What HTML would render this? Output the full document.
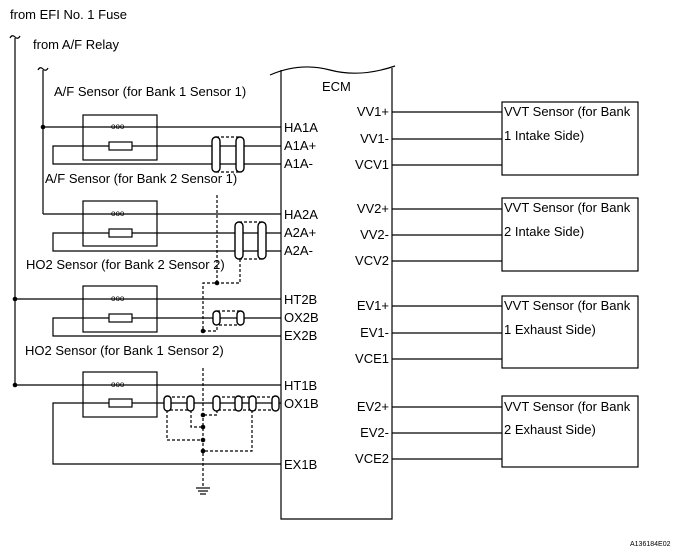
<!DOCTYPE html>
<html><head><style>body{margin:0;background:#fff}svg{display:block}text{font-family:"Liberation Sans",sans-serif;font-size:13px;fill:#000}</style></head><body>
<svg width="680" height="556" viewBox="0 0 680 556" xmlns="http://www.w3.org/2000/svg">
<g stroke="#000" stroke-width="1.2" fill="none">
<path d="M10 38 q2 -4 5 -1 q3 3 5 -1"/>
<line x1="15" y1="38" x2="15" y2="385"/>
<path d="M38 70 q2 -4 5 -1 q3 3 5 -1"/>
<line x1="43" y1="70" x2="43" y2="214"/>
<path d="M270 75 Q300 62 330 70 Q360 78 395 66"/>
<path d="M281 70 V519 H392 V68"/>
<rect x="83" y="115" width="74" height="45"/>
<rect x="83" y="201" width="74" height="45"/>
<rect x="83" y="286" width="74" height="46"/>
<rect x="83" y="372" width="74" height="45"/>
<line x1="43" y1="127" x2="281" y2="127"/>
<polyline points="281,146 53,146 53,164 281,164"/>
<line x1="43" y1="214" x2="281" y2="214"/>
<polyline points="281,233 53,233 53,251 281,251"/>
<line x1="15" y1="299" x2="281" y2="299"/>
<polyline points="281,318 53,318 53,336 281,336"/>
<line x1="15" y1="385" x2="281" y2="385"/>
<polyline points="281,403 53,403 53,464 281,464"/>
<rect x="502" y="102" width="136" height="73"/>
<rect x="502" y="198" width="136" height="73"/>
<rect x="502" y="296" width="136" height="72"/>
<rect x="502" y="396" width="136" height="71"/>
<g>
<line x1="392" y1="112" x2="502" y2="112"/><line x1="392" y1="139" x2="502" y2="139"/><line x1="392" y1="165" x2="502" y2="165"/>
<line x1="392" y1="209" x2="502" y2="209"/><line x1="392" y1="235" x2="502" y2="235"/><line x1="392" y1="261" x2="502" y2="261"/>
<line x1="392" y1="306" x2="502" y2="306"/><line x1="392" y1="333" x2="502" y2="333"/><line x1="392" y1="359" x2="502" y2="359"/>
<line x1="392" y1="407" x2="502" y2="407"/><line x1="392" y1="433" x2="502" y2="433"/><line x1="392" y1="459" x2="502" y2="459"/>
</g>
</g>
<g stroke="#000" stroke-width="1.2" fill="#fff">
<rect x="109" y="142" width="23" height="8"/><rect x="109" y="229" width="23" height="8"/>
<rect x="109" y="314" width="23" height="8"/><rect x="109" y="399" width="23" height="8"/>
</g>
<g><text x="111" y="129" style="font-size:8px">ooo</text><text x="111" y="216" style="font-size:8px">ooo</text><text x="111" y="301" style="font-size:8px">ooo</text><text x="111" y="387" style="font-size:8px">ooo</text></g>
<g stroke="#000" stroke-width="1.2" fill="none" stroke-dasharray="3,2">
<rect x="216" y="137" width="24" height="35"/>
<rect x="239" y="222" width="23" height="37"/>
<polyline points="217,195 217,283 203,283 203,331 217,331 217,325"/>
<polyline points="240,259 240,283 217,283"/>
<rect x="217" y="311" width="23" height="14"/>
<rect x="167" y="397" width="24" height="13"/>
<rect x="217" y="397" width="58" height="13"/>
<polyline points="203,368 203,487"/>
<polyline points="167,410 167,440 203,440"/>
<polyline points="191,410 191,427 203,427"/>
<polyline points="217,410 217,415 203,415"/>
<polyline points="252,410 252,451 203,451"/>
</g>
<g stroke="#000" stroke-width="1.4" fill="#fff">
<rect x="212" y="137" width="8" height="35" rx="4"/><rect x="236" y="137" width="8" height="35" rx="4"/>
<rect x="235" y="222" width="8" height="37" rx="4"/><rect x="258" y="222" width="8" height="37" rx="4"/>
<rect x="213" y="311" width="7" height="14" rx="3.5"/><rect x="237" y="311" width="7" height="14" rx="3.5"/>
<rect x="164" y="396" width="7" height="15" rx="3.5"/><rect x="187" y="396" width="7" height="15" rx="3.5"/>
<rect x="213" y="396" width="7" height="15" rx="3.5"/><rect x="235" y="396" width="7" height="15" rx="3.5"/>
<rect x="249" y="396" width="7" height="15" rx="3.5"/><rect x="272" y="396" width="7" height="15" rx="3.5"/>
</g>
<g fill="#000">
<circle cx="43" cy="127" r="2.3"/><circle cx="15" cy="299" r="2.3"/><circle cx="15" cy="385" r="2.3"/>
<circle cx="217" cy="283" r="2.3"/><circle cx="203" cy="331" r="2.3"/>
<circle cx="203" cy="415" r="2.3"/><circle cx="203" cy="427" r="2.3"/><circle cx="203" cy="440" r="2.3"/><circle cx="203" cy="451" r="2.3"/>
</g>
<g stroke="#000" stroke-width="1.2"><line x1="196" y1="488" x2="210" y2="488"/><line x1="198" y1="491" x2="208" y2="491"/><line x1="200" y1="494" x2="206" y2="494"/></g>
<text x="10" y="19">from EFI No. 1 Fuse</text>
<text x="33" y="49">from A/F Relay</text>
<text x="54" y="96">A/F Sensor (for Bank 1 Sensor 1)</text>
<text x="45" y="183">A/F Sensor (for Bank 2 Sensor 1)</text>
<text x="26" y="269">HO2 Sensor (for Bank 2 Sensor 2)</text>
<text x="25" y="355">HO2 Sensor (for Bank 1 Sensor 2)</text>
<text x="322" y="91">ECM</text>
<text x="284" y="132">HA1A</text><text x="284" y="150">A1A+</text><text x="284" y="168">A1A-</text>
<text x="284" y="219">HA2A</text><text x="284" y="237">A2A+</text><text x="284" y="255">A2A-</text>
<text x="284" y="304">HT2B</text><text x="284" y="322">OX2B</text><text x="284" y="340">EX2B</text>
<text x="284" y="390">HT1B</text><text x="284" y="408">OX1B</text><text x="284" y="469">EX1B</text>
<g text-anchor="end">
<text x="389" y="116">VV1+</text><text x="389" y="143">VV1-</text><text x="389" y="169">VCV1</text>
<text x="389" y="213">VV2+</text><text x="389" y="239">VV2-</text><text x="389" y="265">VCV2</text>
<text x="389" y="310">EV1+</text><text x="389" y="337">EV1-</text><text x="389" y="363">VCE1</text>
<text x="389" y="411">EV2+</text><text x="389" y="437">EV2-</text><text x="389" y="463">VCE2</text>
</g>
<text x="504" y="116">VVT Sensor (for Bank</text><text x="504" y="140">1 Intake Side)</text>
<text x="504" y="212">VVT Sensor (for Bank</text><text x="504" y="236">2 Intake Side)</text>
<text x="504" y="310">VVT Sensor (for Bank</text><text x="504" y="334">1 Exhaust Side)</text>
<text x="504" y="411">VVT Sensor (for Bank</text><text x="504" y="434">2 Exhaust Side)</text>
<text x="630" y="546" style="font-size:7px">A136184E02</text>
</svg>
</body></html>
